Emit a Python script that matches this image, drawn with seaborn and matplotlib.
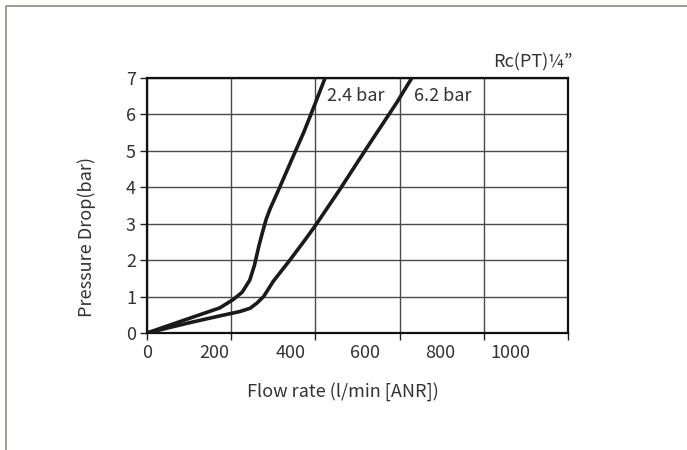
import matplotlib
matplotlib.use("Agg")
import matplotlib.pyplot as plt
import seaborn as sns
import pandas as pd
from matplotlib.lines import Line2D

# curve readings: flow rate (l/min) vs pressure drop (bar)
flow_24 = [0, 100, 173, 205, 226, 244, 255, 266, 274, 283, 292, 316, 351, 372, 391, 423]
drop_24 = [0, 0.40, 0.69, 0.92, 1.12, 1.45, 1.85, 2.40, 2.75, 3.12, 3.40, 4.02,
           4.95, 5.5, 6.05, 7.0]

flow_62 = [0, 100, 173, 221, 245, 261, 277, 300, 340, 375, 400, 458, 522, 593, 629]
drop_62 = [0, 0.28, 0.47, 0.59, 0.68, 0.82, 1.0, 1.42, 2.01, 2.55, 2.95, 3.94,
           5.08, 6.32, 7.0]

x_grid = [0, 200, 400, 600, 800, 1000]
x_labels = ["0", "200", "400", "600", "800", "1000"]
y_ticks = [0, 1, 2, 3, 4, 5, 6, 7]

curve_names = ["2.4 bar", "6.2 bar"]

df = pd.concat([
    pd.DataFrame({"flow": flow_24, "drop": drop_24, "curve": curve_names[0]}),
    pd.DataFrame({"flow": flow_62, "drop": drop_62, "curve": curve_names[1]}),
])

sns.set_theme(style="white")
plt.rcParams["font.family"] = ["Noto Sans CJK JP", "DejaVu Sans"]
TXT = "#333333"

W, H = 687, 450
fig = plt.figure(figsize=(W / 100, H / 100), dpi=100)
ax = fig.add_axes([147 / W, 1 - 333 / H, 421 / W, 255 / H])

sns.lineplot(data=df, x="flow", y="drop", hue="curve", units="curve",
             estimator=None, sort=False, palette=["#1a1a1a", "#1a1a1a"],
             linewidth=2.6, legend=False, ax=ax, zorder=3)
for ln in ax.lines:
    ln.set_solid_joinstyle("round")

ax.set_xlim(0, 1000)
ax.set_ylim(0, 7)

# grid lines on the 200 step, labels sit a little left of them (as in the source)
ax.set_xticks(x_grid)
ax.set_xticklabels([x_labels[0]] + [""] * (len(x_grid) - 1))
label_pos = [161, 340, 518, 696, 862]
ax.set_xticks(label_pos, minor=True)
ax.set_xticklabels(x_labels[1:], minor=True)
ax.set_yticks(y_ticks)
ax.set_yticklabels([str(v) for v in y_ticks])

ax.tick_params(axis="both", which="major", direction="out", length=5, width=1,
               color="#222222", labelsize=13, labelcolor=TXT, pad=3,
               bottom=True, left=True)
ax.tick_params(axis="x", which="minor", length=0, labelsize=13,
               labelcolor=TXT, pad=8, bottom=True)

ax.grid(True, which="major", color="#4a4a4a", linewidth=1.0)
for sp in ax.spines.values():
    sp.set_color("#111111")
    sp.set_linewidth(1.6)

ax.set_xlabel("")
ax.set_ylabel("")
fig.text(343 / W, 1 - 392 / H, "Flow rate (l/min [ANR])", ha="center",
         va="center", fontsize=13, color=TXT)
fig.text(87 / W, 1 - 237 / H, "Pressure Drop(bar)", ha="center",
         va="center", rotation=90, fontsize=13, color=TXT)

ax.text(427, 6.5, curve_names[0], ha="left", va="center", fontsize=13, color=TXT)
ax.text(634, 6.5, curve_names[1], ha="left", va="center", fontsize=13, color=TXT)
fig.text(573 / W, 1 - 62 / H, "Rc(PT)\u00bc\u201d", ha="right", va="center",
         fontsize=13, color=TXT)

# outer frame lines (left and top only)
fig.add_artist(Line2D([6 / W, 6 / W, 1], [0, 1 - 6 / H, 1 - 6 / H],
                      transform=fig.transFigure, color="#9c9382", linewidth=1.3))

fig.savefig("out.png", dpi=100)
